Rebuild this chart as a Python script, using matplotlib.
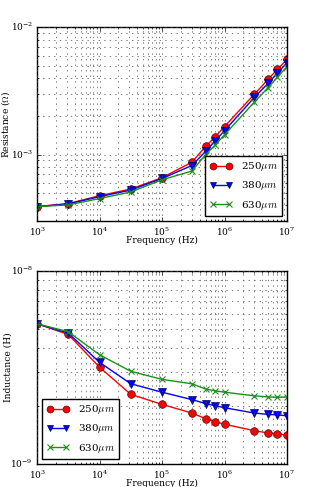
"""
Resistance and inductance vs frequency for three conductor sizes
"""

import matplotlib
matplotlib.use('Agg')
import matplotlib.pyplot as plt

#---------------------------------------------------------------------------------------------------
# Data
#---------------------------------------------------------------------------------------------------

freq = [1e3, 3.16e3, 1e4, 3.16e4, 1e5, 3e5, 5e5, 7e5, 1e6, 3e6, 5e6, 7e6, 1e7]

res_250 = [3.90e-4, 4.12e-4, 4.75e-4, 5.36e-4, 6.58e-4, 8.71e-4, 1.16e-3, 1.37e-3, 1.66e-3,
           2.98e-3, 3.90e-3, 4.67e-3, 5.59e-3]
res_380 = [3.90e-4, 4.09e-4, 4.67e-4, 5.26e-4, 6.49e-4, 8.20e-4, 1.06e-3, 1.27e-3, 1.54e-3,
           2.81e-3, 3.63e-3, 4.35e-3, 5.26e-3]
res_630 = [3.90e-4, 4.02e-4, 4.51e-4, 5.08e-4, 6.34e-4, 7.41e-4, 1.00e-3, 1.18e-3, 1.43e-3,
           2.58e-3, 3.36e-3, 4.05e-3, 4.90e-3]

ind_250 = [5.34e-9, 4.70e-9, 3.18e-9, 2.30e-9, 2.04e-9, 1.84e-9, 1.72e-9, 1.66e-9, 1.61e-9,
           1.49e-9, 1.45e-9, 1.44e-9, 1.41e-9]
ind_380 = [5.34e-9, 4.78e-9, 3.37e-9, 2.61e-9, 2.36e-9, 2.16e-9, 2.06e-9, 2.01e-9, 1.96e-9,
           1.84e-9, 1.81e-9, 1.80e-9, 1.78e-9]
ind_630 = [5.34e-9, 4.86e-9, 3.69e-9, 3.03e-9, 2.75e-9, 2.61e-9, 2.45e-9, 2.40e-9, 2.36e-9,
           2.26e-9, 2.23e-9, 2.22e-9, 2.23e-9]

labels = [r'250$\mu m$', r'380$\mu m$', r'630$\mu m$']

#---------------------------------------------------------------------------------------------------
# Plot
#---------------------------------------------------------------------------------------------------

plt.style.use('classic')
plt.rcParams['font.family'] = 'serif'
plt.rcParams['font.serif'] = ['DejaVu Serif']
plt.rcParams['mathtext.fontset'] = 'cm'
fontsize = 6

styles = [dict(c='r', marker='o', mec='#600000', mew=0.5, ms=5.5),
          dict(c='b', marker='v', mec='#000060', mew=0.5, ms=5.5),
          dict(c='#1a921a', marker='x', mec='#1a921a', mew=0.8, ms=5)]

fig = plt.figure(figsize=(3.14, 4.87), dpi=100, facecolor='white')
ax1 = fig.add_axes([0.118, 0.546, 0.796, 0.398])
ax2 = fig.add_axes([0.118, 0.047, 0.796, 0.396])

for ax, series, ylab, ylim, loc in [(ax1, [res_250, res_380, res_630], r'Resistance ($\Omega$)',
                                     (3e-4, 1e-2), 'lower right'),
                                    (ax2, [ind_250, ind_380, ind_630], 'Inductance (H)',
                                     (1e-9, 1e-8), 'lower left')]:
    for vals, lab, st in zip(series, labels, styles):
        ax.plot(freq, vals, lw=1, label=lab, **st)
    ax.set_xscale('log')
    ax.set_yscale('log')
    ax.set_xlim(1e3, 1e7)
    ax.set_ylim(*ylim)
    ax.grid(True, which='both', ls=':', c='0.3', lw=0.5)
    ax.set_xlabel('Frequency (Hz)', size=fontsize + 0.5)
    ax.set_ylabel(ylab, size=fontsize + 0.5)
    ax.yaxis.set_label_coords(-0.1, 0.5)
    ax.xaxis.set_label_coords(0.5, -0.078)
    ax.tick_params(axis='both', which='both', labelsize=fontsize + 0.5, pad=3)
    ax.tick_params(axis='both', which='major', length=3)
    ax.tick_params(axis='both', which='minor', length=1.5)
    ax.legend(loc=loc, numpoints=2, fontsize=fontsize + 1.5, frameon=True, markerscale=0.9,
              handlelength=2.2, borderaxespad=0.5, labelspacing=0.6)

plt.savefig('out.png', dpi=100, facecolor='white')
